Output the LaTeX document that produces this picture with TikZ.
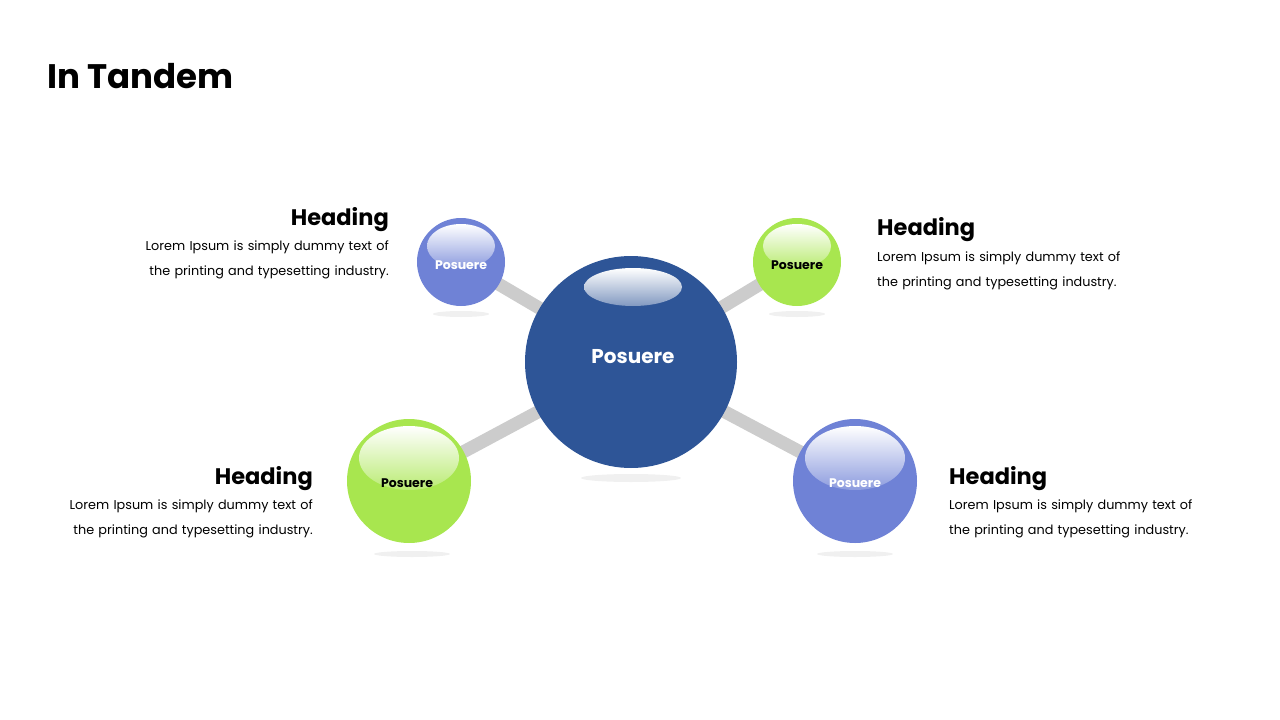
\documentclass[tikz,border=0pt]{standalone}
\usepackage{fontspec}
\setmainfont{Poppins}
\definecolor{navy}{HTML}{2E5597}
\definecolor{lav}{HTML}{6F82D6}
\definecolor{lime}{HTML}{A8E64F}
\tikzset{
  bar/.style={line width=13pt,draw=black!20},
  ball/.style={circle,inner sep=0pt},
  lbl/.style={text=white,font=\bfseries\fontsize{12.5}{14}\selectfont},
  lbld/.style={text=black,font=\bfseries\fontsize{12.5}{14}\selectfont},
  head/.style={font=\bfseries\fontsize{22.5}{24}\selectfont,inner sep=0pt},
  body/.style={font=\fontsize{12.8}{24.5}\selectfont,inner sep=0pt,text width=300pt},
  shad/.style={fill=black!6},
}
\begin{document}
\begin{tikzpicture}[x=1pt,y=-1pt]
\useasboundingbox (0,0) rectangle (1280,720);
\node[anchor=west,inner sep=0pt,font=\bfseries\fontsize{34}{36}\selectfont] (title) at (47,76) {In Tandem};
% shadows
\fill[shad] (631,478) ellipse (50 and 4);
\fill[shad] (461,314) ellipse (28 and 3);
\fill[shad] (797,314) ellipse (28 and 3);
\fill[shad] (412,554) ellipse (38 and 3);
\fill[shad] (855,554) ellipse (38 and 3);
% nodes
\node[ball,minimum size=212pt] (c) at (631,362) {};
\node[ball,minimum size=88pt] (tl) at (461,262) {};
\node[ball,minimum size=88pt] (tr) at (797,262) {};
\node[ball,minimum size=124pt] (bl) at (409,481) {};
\node[ball,minimum size=124pt] (br) at (855,481) {};
% bars
\draw[bar,shorten <=-4pt,shorten >=-4pt] (c) -- (tl);
\draw[bar,shorten <=-4pt,shorten >=-4pt] (c) -- (tr);
\draw[bar,shorten <=-4pt,shorten >=-4pt] (c) -- (bl);
\draw[bar,shorten <=-4pt,shorten >=-4pt] (c) -- (br);
% balls
\fill[navy] (c.center) circle (106);
\fill[lav] (tl.center) circle (44);
\fill[lime] (tr.center) circle (44);
\fill[lime] (bl.center) circle (62);
\fill[lav] (br.center) circle (62);
% highlights
\shade[top color=white,bottom color=white!40!navy] (633,287) ellipse (49 and 19);
\shade[top color=white,bottom color=white!20!lav] (461,246) ellipse (34 and 22);
\shade[top color=white,bottom color=white!20!lime] (797,246) ellipse (34 and 22);
\shade[top color=white,bottom color=white!20!lime] (409,458) ellipse (50 and 32);
\shade[top color=white,bottom color=white!20!lav] (855,458) ellipse (50 and 32);
% labels
\node[lbl,font=\bfseries\fontsize{20}{22}\selectfont] at (633,357) {Posuere};
\node[lbl] at (461,265) {Posuere};
\node[lbld] at (797,265) {Posuere};
\node[lbld] at (407,483) {Posuere};
\node[lbl] at (855,483) {Posuere};
% texts
\node[head,anchor=east] (h1) at (389,220) {Heading};
\node[body,anchor=north east,align=right] (b1) at (389,241) {Lorem Ipsum is simply dummy text of\\the printing and typesetting industry.};
\node[head,anchor=west] (h2) at (877,230) {Heading};
\node[body,anchor=north west,align=left] (b2) at (877,252) {Lorem Ipsum is simply dummy text of\\the printing and typesetting industry.};
\node[head,anchor=east] (h3) at (313,479) {Heading};
\node[body,anchor=north east,align=right] (b3) at (313,500) {Lorem Ipsum is simply dummy text of\\the printing and typesetting industry.};
\node[head,anchor=west] (h4) at (949,479) {Heading};
\node[body,anchor=north west,align=left] (b4) at (949,500) {Lorem Ipsum is simply dummy text of\\the printing and typesetting industry.};
\end{tikzpicture}
\end{document}
